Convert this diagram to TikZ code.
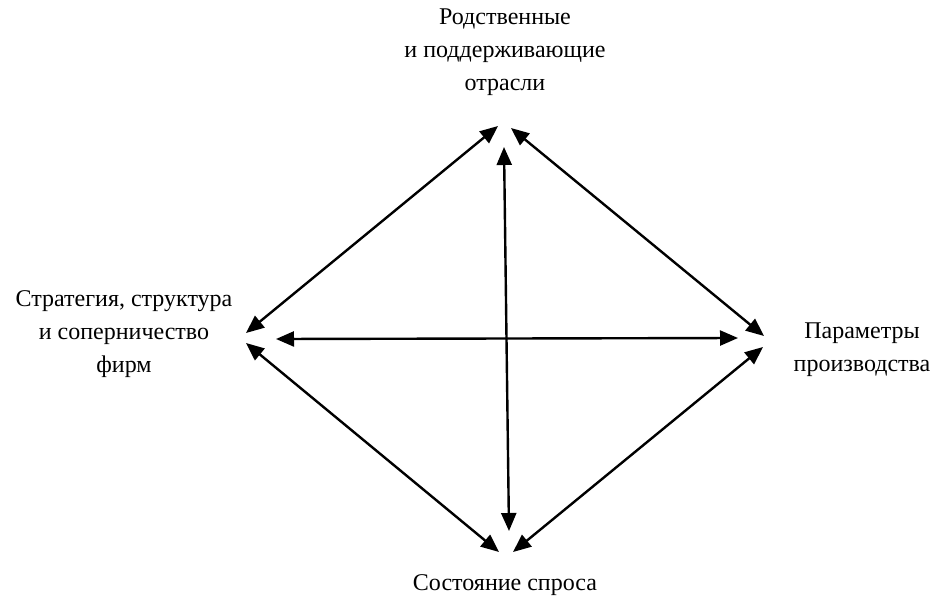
\documentclass[tikz,border=0pt]{standalone}
\usepackage{fontspec}
\setmainfont{Liberation Serif}
\newfontfamily\lblfont{Liberation Serif}
\usetikzlibrary{arrows.meta}

\begin{document}
\begin{tikzpicture}[x=1pt, y=-1pt,
		lbl/.style = {align=center, inner sep=0pt, font=\lblfont\fontsize{24}{33}\selectfont},
		link/.style = {line width=2.4pt, {Triangle[length=18pt,width=15pt]}-{Triangle[length=18pt,width=15pt]}}]
		\useasboundingbox (0,0) rectangle (947,605);
		
		\node[lbl] (rel) at (505,52) {Родственные\\и поддерживающие\\отрасли};
		\node[lbl] (str) at (124,334) {Стратегия, структура\\и соперничество\\фирм};
		\node[lbl] (par) at (862,350) {Параметры\\производства};
		\node[lbl] (dem) at (505,585) {Состояние спроса};
		
		% ends of the arrows
		\coordinate (t1) at (498,126);
		\coordinate (t2) at (511,128);
		\coordinate (t3) at (504,147);
		\coordinate (l1) at (246,333);
		\coordinate (l2) at (276,339);
		\coordinate (l3) at (246,343);
		\coordinate (r1) at (764,336);
		\coordinate (r2) at (738,338);
		\coordinate (r3) at (763,347);
		\coordinate (b1) at (499,552);
		\coordinate (b2) at (513,552);
		\coordinate (b3) at (509,531);
		
		\begin{scope}[link]
			\draw (t1) -- (l1);
			\draw (t2) -- (r1);
			\draw (l3) -- (b1);
			\draw (r3) -- (b2);
			\draw (t3) -- (b3);
			\draw (l2) -- (r2);
		\end{scope}
	\end{tikzpicture}
\end{document}
